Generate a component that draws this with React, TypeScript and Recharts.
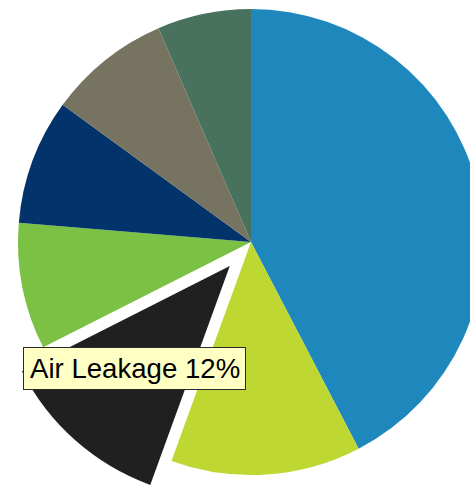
import { PieChart, Pie, Cell, Sector, Tooltip } from "recharts";

// share of energy loss by category (percent)
const categories = ["Heating & Cooling", "Water Heating", "Air Leakage", "Lighting", "Appliances", "Electronics", "Other"];
const shares = [42.4, 13.2, 12, 8.8, 8.7, 8.5, 6.5];
const colors = ["#1e88bc", "#bed732", "#202020", "#7bc144", "#03336b", "#767461", "#48725d"];

const data = categories.map((name, i) => ({ name, value: shares[i] }));

const RADIAN = Math.PI / 180;

// pulled-out slice for the hovered item
function ExplodedSector(props: any) {
  const { cx, cy, midAngle, innerRadius, outerRadius, startAngle, endAngle, fill } = props;
  const off = 32;
  const dx = off * Math.cos(-midAngle * RADIAN);
  const dy = off * Math.sin(-midAngle * RADIAN);
  return (
    <Sector
      cx={cx + dx}
      cy={cy + dy}
      innerRadius={innerRadius}
      outerRadius={outerRadius}
      startAngle={startAngle}
      endAngle={endAngle}
      fill={fill}
      stroke="none"
    />
  );
}

function TipBox({ active, payload }: any) {
  if (!active || !payload || !payload.length) return null;
  const p = payload[0];
  return (
    <div
      style={{
        background: "#ffffc4",
        border: "1px solid #2a2a2a",
        padding: "5px 5px 4px 6px",
        fontFamily: "'Liberation Sans', Arial, sans-serif",
        fontSize: 27.6,
        lineHeight: "32px",
        color: "#000",
        whiteSpace: "nowrap",
      }}
    >
      {p.name} {p.value}%
    </div>
  );
}

export default function App() {
  return (
    <div style={{ position: "absolute", left: 0, top: 0, width: 470, height: 485, background: "#fff" }}>
      <PieChart width={470} height={485} margin={{ top: 0, right: 0, bottom: 0, left: 0 }}>
        <Pie
          data={data}
          dataKey="value"
          nameKey="name"
          cx={251}
          cy={242}
          outerRadius={233}
          startAngle={90}
          endAngle={-270}
          stroke="none"
          activeShape={ExplodedSector}
          isAnimationActive={false}
        >
          {data.map((d, i) => (
            <Cell key={d.name} fill={colors[i]} />
          ))}
        </Pie>
        <Tooltip
          defaultIndex={2}
          content={<TipBox />}
          position={{ x: 23, y: 347 }}
          cursor={false}
          isAnimationActive={false}
        />
      </PieChart>
    </div>
  );
}
